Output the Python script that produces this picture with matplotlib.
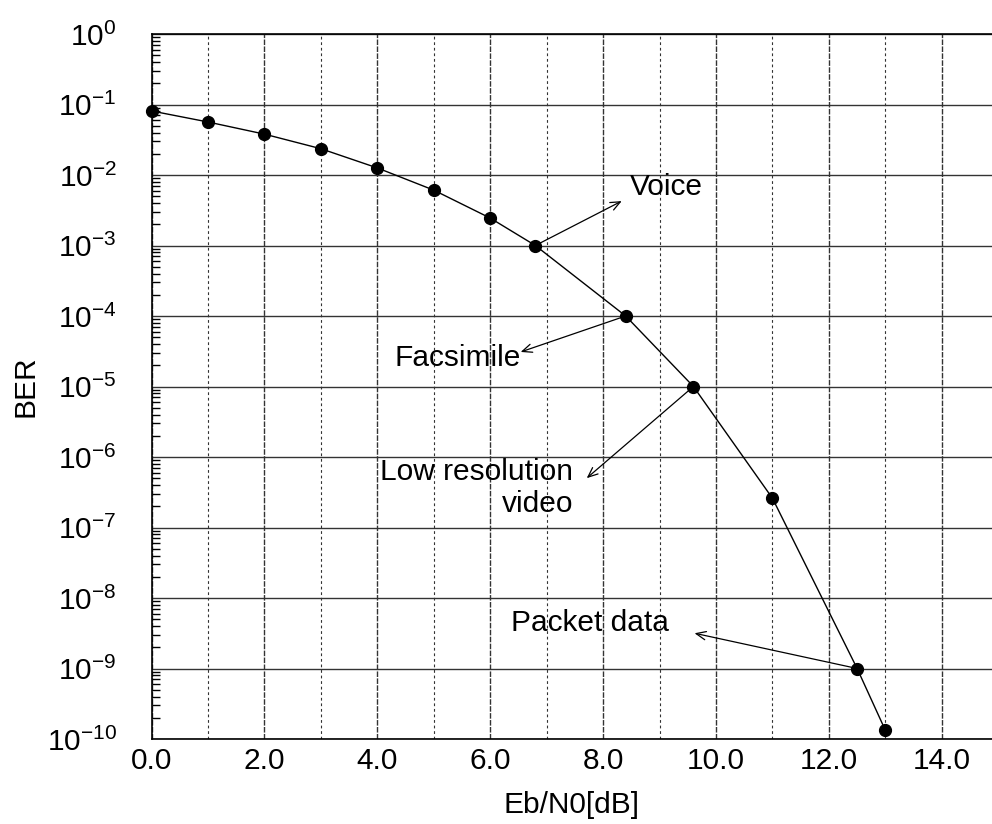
import matplotlib
matplotlib.use("Agg")
import matplotlib.pyplot as plt
from matplotlib.ticker import LogLocator, MultipleLocator, FixedLocator, NullFormatter, LogFormatterSciNotation

plt.rcParams['font.family'] = ['Liberation Sans', 'DejaVu Sans']
plt.rcParams['mathtext.fontset'] = 'custom'
plt.rcParams['mathtext.rm'] = 'Liberation Sans'
plt.rcParams['mathtext.it'] = 'Liberation Sans:italic'
plt.rcParams['mathtext.bf'] = 'Liberation Sans:bold'

# BER curve
ebn0 = [0.0, 1.0, 2.0, 3.0, 4.0, 5.0, 6.0, 6.8, 8.4, 9.6, 11.0, 12.5, 13.0]
ber = [8.1e-2, 5.65e-2, 3.8e-2, 2.36e-2, 1.26e-2, 6.1e-3, 2.45e-3,
       1e-3, 1e-4, 1e-5, 2.6e-7, 1e-9, 1.33e-10]

x_ticks = [0, 2, 4, 6, 8, 10, 12, 14]
x_tick_labels = ["0.0", "2.0", "4.0", "6.0", "8.0", "10.0", "12.0", "14.0"]
y_decades = list(range(0, -11, -1))

# Service requirements: (label, anchor x, anchor y, arrow end x, arrow end y,
#                        text x, text y, horizontal alignment)
services = [
    ("Voice", 6.8, 1e-3, 8.33, 10**-2.37, 8.47, 10**-2.17, "left"),
    ("Facsimile", 8.4, 1e-4, 6.54, 10**-4.51, 6.54, 10**-4.60, "right"),
    ("Low resolution\nvideo", 9.6, 1e-5, 7.71, 10**-6.30, 7.47, 10**-6.44, "right"),
    ("Packet data", 12.5, 1e-9, 9.62, 10**-8.50, 7.76, 10**-8.35, "center"),
]

FS = 21.5

W, H = 992, 824
fig = plt.figure(figsize=(W / 100, H / 100), dpi=100)
left, right, top, bottom = 151.5, 992, 34, 739
ax = fig.add_axes([left / W, 1 - bottom / H, (right - left) / W, (bottom - top) / H])

ax.set_yscale('log')
ax.set_ylim(1e-10, 1)
ax.set_xlim(0, (right - left) / 56.45)

ax.plot(ebn0, ber, color='black', lw=1.0, marker='o', ms=8.5,
        markerfacecolor='black', markeredgecolor='black', zorder=5, clip_on=False)

# Axes, ticks and grid
ax.xaxis.set_major_locator(FixedLocator(x_ticks))
ax.set_xticklabels(x_tick_labels)
ax.xaxis.set_minor_locator(MultipleLocator(1))
ax.xaxis.set_minor_formatter(NullFormatter())
ax.yaxis.set_major_locator(FixedLocator([10.0 ** d for d in y_decades]))
ax.yaxis.set_major_formatter(LogFormatterSciNotation(base=10))
ax.yaxis.set_minor_locator(FixedLocator([m * 10.0 ** d for d in y_decades[1:]
                                         for m in range(2, 10)]))
ax.yaxis.set_minor_formatter(NullFormatter())

ax.tick_params(axis='x', which='both', length=0, pad=6, labelsize=FS)
ax.tick_params(axis='y', which='major', length=0, pad=25, labelsize=FS)
ax.tick_params(axis='y', which='minor', direction='in', length=6, width=1.0)

ax.grid(True, axis='y', which='major', color='#333333', lw=1.0, ls='-')
ax.grid(True, axis='x', which='major', color='#333333', lw=1.0, ls=(0, (4, 1)))
ax.grid(True, axis='x', which='minor', color='#333333', lw=0.8, ls=(0, (2.5, 2.5)))
ax.set_axisbelow(True)

ax.spines['right'].set_visible(False)
for s in ('left', 'top', 'bottom'):
    ax.spines[s].set_linewidth(1.2)

ax.set_xlabel("Eb/N0[dB]", fontsize=FS, labelpad=11)
ax.set_ylabel("BER", fontsize=FS, labelpad=5)

for label, ax_x, ax_y, ex, ey, tx, ty, ha in services:
    ax.annotate("", xy=(ex, ey), xytext=(ax_x, ax_y),
                arrowprops=dict(arrowstyle='->,head_length=0.7,head_width=0.3',
                                color='black', lw=0.9, shrinkA=0, shrinkB=0),
                zorder=4)
    ax.text(tx, ty, label, ha=ha, va='center', fontsize=FS,
            multialignment='right', linespacing=1.2, zorder=6)

fig.savefig("out.png", dpi=100)
